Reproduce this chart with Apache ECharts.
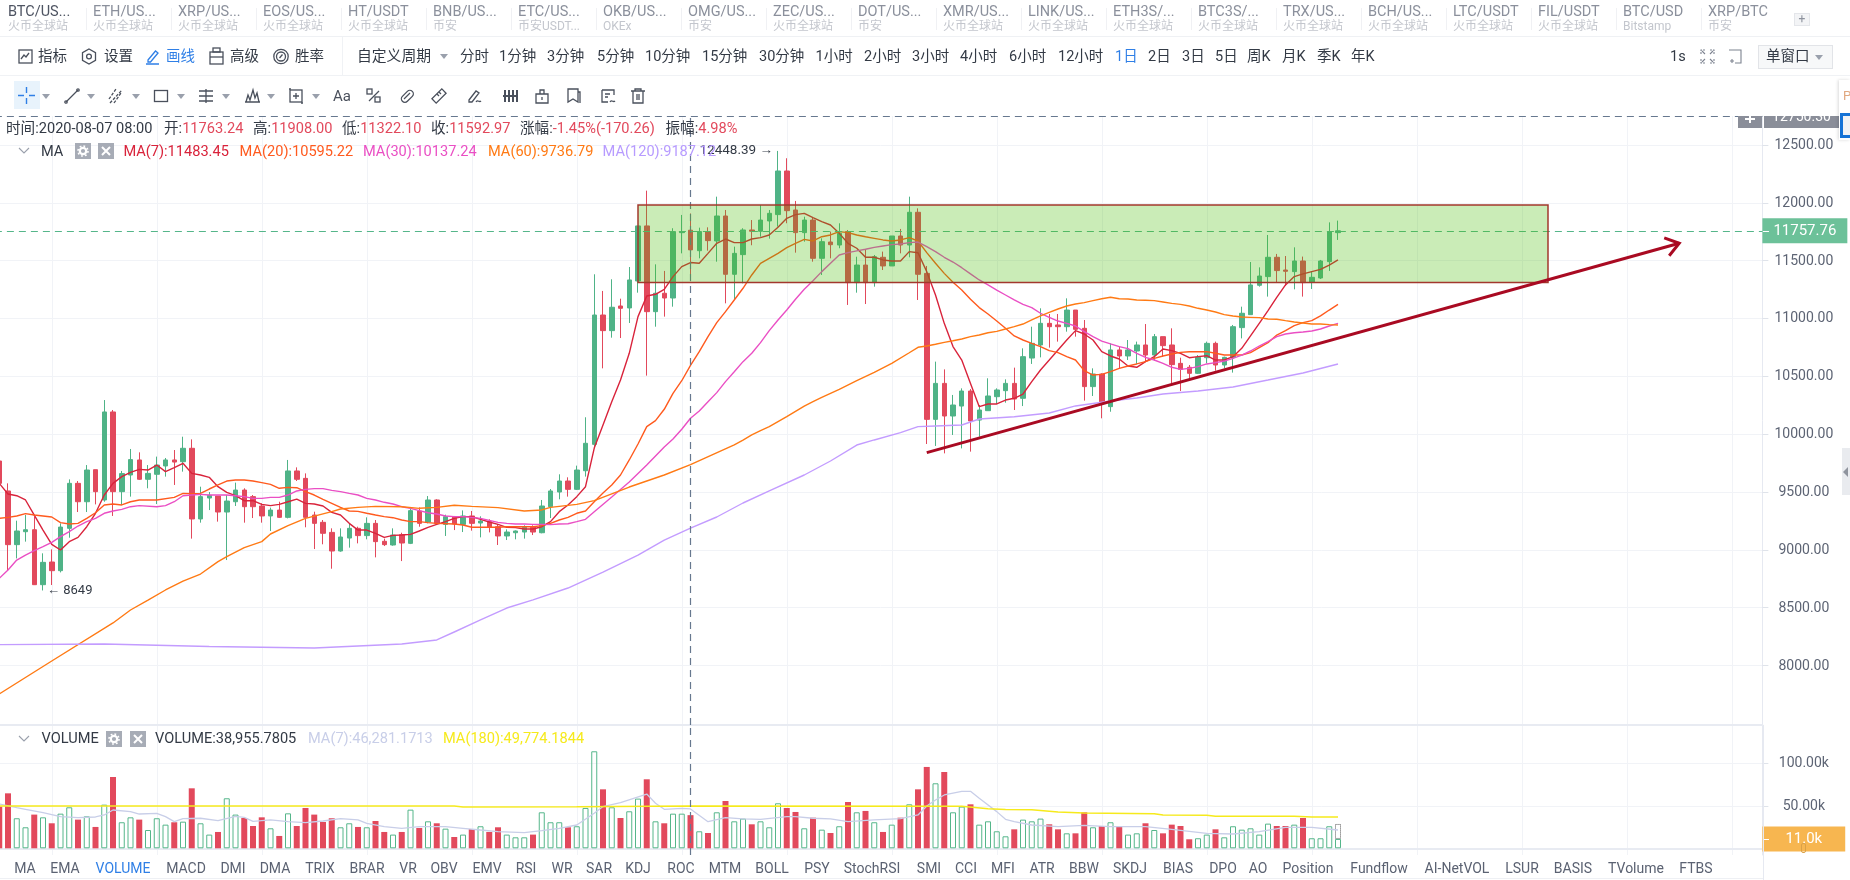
<!DOCTYPE html>
<html><head><meta charset="utf-8"><title>BTC/USDT</title>
<script src="https://cdn.jsdelivr.net/npm/echarts@6/dist/echarts.min.js"></script>
<style>
html,body{margin:0;padding:0;background:#fff;overflow:hidden}
#stage{position:absolute;left:0;top:0;width:1850px;height:880px;overflow:hidden;font-family:Roboto,"Noto Sans CJK SC",sans-serif}
#chart{position:absolute;left:0;top:0;width:1850px;height:880px}
.t{position:absolute;white-space:nowrap;transform:translateY(-50%);line-height:1.2}
.b{position:absolute}
svg{position:absolute;overflow:visible}
</style></head><body><div id="stage"><div id="chart"></div></div>
<script>
// Daily BTC/USDT candles, oldest first
const opens=[9768,9509,9045,9157,9174,8699,8895,8820,9186,9575,9416,9693,9431,10192,9503,9647,9777,9610,9653,9725,9777,9762,9878,9267,9448,9465,9327,9416,9517,9460,9379,9293,9344,9281,9682,9618,9301,9238,9151,8990,9102,9186,9123,9229,9074,9042,9131,9056,9336,9241,9431,9220,9287,9220,9293,9232,9244,9200,9120,9148,9154,9195,9148,9373,9500,9595,9523,9684,9912,11030,10895,11108,11091,11324,11800,11059,11218,11177,11742,11763.24,11586,11751,11670,11886,11382,11552,11765,11754,11843,11898,12275,11938,11742,11851,11520,11661,11635,11751,11310,11462,11310,11529,11454,11713,11635,11918,11390,10128,10439,10157,10243,10373,10122,10203,10324,10376,10439,10310,10658,10771,10958,10944,10929,11073,10915,10411,10520,10238,10728,10676,10719,10771,10684,10843,10771,10612,10578,10526,10661,10785,10598,10664,10921,11033,11287,11362,11529,11419,11405,11497,11315,11350,11491,11742];
const highs=[9800,9575,9252,9301,9287,8970,9004,9229,9609,9595,9733,9693,10295,10209,9682,9872,9843,9733,9806,9794,9863,9978,9955,9546,9500,9465,9474,9581,9532,9474,9402,9365,9416,9777,9713,9661,9330,9258,9186,9186,9229,9200,9281,9258,9097,9186,9148,9359,9367,9465,9437,9304,9293,9341,9336,9290,9264,9223,9177,9168,9212,9212,9431,9526,9653,9627,9728,10146,11382,11238,11339,11171,11445,11800,12105,11468,11411,11780,11895,11908,11785,11788,12053,11938,11621,11780,11851,11981,11938,12448.39,12385,12016,11880,11875,11693,11751,11823,11765,11534,11592,11549,11578,11713,11774,12053,11952,11454,10627,10560,10339,10396,10390,10252,10483,10396,10474,10575,10742,10929,11088,11039,11039,11174,11073,10987,10569,10526,10785,10757,10814,10800,10952,10866,10843,10915,10661,10598,10684,10800,10800,10670,10944,11102,11488,11442,11722,11558,11540,11615,11535,11405,11506,11831,11846];
const lows=[9500,8826,8926,9071,8696,8649,8696,8805,9105,9327,9327,9393,9416,9293,9388,9460,9604,9532,9396,9633,9561,9676,9097,9235,9344,9244,8912,9379,9235,9275,9235,9163,9275,9272,9595,9195,9007,9048,8837,8984,9019,9056,9091,8935,9033,9036,8903,9050,9200,9229,9215,9120,9171,9154,9166,9108,9151,9042,9085,9091,9097,9128,9143,9275,9437,9460,9517,9633,9877,10569,10834,10831,10961,11223,10506,10929,11016,11102,11563,11322.1,11520,11586,11491,11131,11160,11304,11633,11707,11690,11794,11823,11569,11664,11491,11376,11520,11607,11117,11223,11125,11275,11419,11454,11563,11529,11160,9915,9898,9834,9993,9877,9849,9978,10203,10261,10272,10209,10243,10607,10664,10748,10800,10886,10843,10290,10330,10137,10194,10569,10641,10607,10627,10635,10670,10439,10373,10483,10520,10612,10549,10569,10532,10828,11033,11275,11189,11310,11281,11252,11189,11255,11341,11411,11679];
const closes=[9575,9045,9163,9174,8699,8892,8820,9197,9575,9416,9690,9503,10192,9503,9659,9780,9610,9661,9733,9777,9759,9878,9267,9460,9471,9327,9422,9517,9373,9373,9293,9344,9281,9682,9610,9281,9229,9143,8990,9111,9186,9123,9229,9071,9045,9128,9059,9339,9229,9431,9229,9287,9223,9293,9229,9249,9195,9120,9154,9163,9195,9154,9379,9509,9595,9523,9690,9921,11030,10895,11097,11088,11333,11800,11059,11218,11177,11751,11751,11592.97,11751,11673,11886,11382,11563,11765,11754,11851,11909,12275,11932,11742,11851,11520,11664,11638,11736,11310,11462,11310,11534,11454,11713,11635,11918,11382,10128,10439,10157,10252,10373,10114,10209,10330,10382,10439,10304,10670,10785,10958,10929,10929,11073,10906,10411,10520,10275,10728,10676,10728,10771,10684,10843,10765,10601,10560,10526,10664,10785,10598,10664,10929,11045,11290,11367,11529,11414,11408,11497,11310,11356,11497,11751,11757.76];
// Traded volume per day, in thousands
const volumes=[49,64.6,35.3,24.7,39.6,36.4,29.4,40.7,48.2,33.7,37.6,25.1,51.3,83.8,30.6,36.4,33.7,21.5,35.3,27.8,30.6,31.3,70.5,29.4,16.1,19.2,58.8,39.6,35.6,26.2,36.4,23.5,14.5,41.1,26.2,47.4,39.6,30.9,35.3,24.7,29.4,25.1,24.7,32.1,19.2,16.1,19.2,45.4,23.9,31.7,29.4,23.1,13.3,16.1,22.7,25.9,19.2,24.7,16.1,12.9,12.9,16.1,42.3,30.6,30.6,24.7,25.9,47.4,114,69.3,48.2,35.6,43.5,58.4,81.1,31.7,29.4,40.7,40.7,38.96,20,18,42.3,55.6,31.7,34.9,28.2,31.7,24.7,52.9,47.4,42.7,23.5,36,21.9,18,25.9,54.4,42.3,43.9,30.6,19.2,27.8,36,51.7,69.3,95.6,76.4,89.7,42.3,49,51.7,27.8,31.7,20,14.1,22.3,33.7,31.7,34.9,28.2,22.3,17.6,17.6,42.3,24.7,26.2,30.6,25.1,16.1,17.6,29.4,21.5,17.6,27.8,26.2,10.6,11.8,16.1,22.3,12.9,25.9,21.9,23.5,16.1,29,26.2,26.2,27.8,35.6,11.8,11.8,25.9,11];
// Still-forming part of the newest volume bar
const pendingVolume=[[153,17.6]];
// Moving averages as [day index, value]
const ma7=[[0,9575],[1,9483],[2,9468],[3,9431],[4,9301],[5,9171],[6,9048],[7,8999],[8,9071],[9,9108],[10,9200],[11,9316],[12,9474],[13,9575],[14,9633],[15,9670],[16,9696],[17,9690],[18,9733],[19,9676],[20,9710],[21,9748],[22,9661],[23,9647],[24,9627],[25,9546],[26,9497],[27,9468],[28,9425],[29,9425],[30,9393],[31,9382],[32,9393],[33,9416],[34,9439],[35,9402],[36,9396],[37,9379],[38,9324],[39,9301],[40,9229],[41,9171],[42,9171],[43,9143],[44,9108],[45,9125],[46,9128],[47,9134],[48,9163],[49,9195],[50,9220],[51,9244],[52,9272],[53,9287],[54,9287],[55,9264],[56,9241],[57,9220],[58,9195],[59,9192],[60,9180],[61,9180],[62,9200],[63,9244],[64,9330],[65,9388],[66,9460],[67,9546],[68,9880],[69,10079],[70,10281],[71,10468],[72,10699],[73,11016],[74,11194],[75,11209],[76,11252],[77,11362],[78,11448],[79,11483.45],[80,11477],[81,11563],[82,11650],[83,11687],[84,11656],[85,11656],[86,11687],[87,11699],[88,11722],[89,11788],[90,11866],[91,11898],[92,11909],[93,11872],[94,11837],[95,11808],[96,11736],[97,11650],[98,11607],[99,11529],[100,11529],[101,11506],[102,11497],[103,11497],[104,11578],[105,11568],[106,11405],[107,11203],[108,10958],[109,10757],[110,10641],[111,10439],[112,10238],[113,10261],[114,10261],[115,10295],[116,10310],[117,10347],[118,10454],[119,10555],[120,10641],[121,10728],[122,10814],[123,10895],[124,10866],[125,10814],[126,10713],[127,10676],[128,10650],[129,10589],[130,10578],[131,10627],[132,10670],[133,10736],[134,10722],[135,10699],[136,10661],[137,10670],[138,10678],[139,10641],[140,10641],[141,10670],[142,10742],[143,10849],[144,10958],[145,11068],[146,11183],[147,11290],[148,11362],[149,11385],[150,11405],[151,11425],[152,11462],[153,11506]];
const ma20=[[0,9272],[1,9281],[2,9293],[3,9313],[4,9301],[5,9293],[6,9284],[7,9235],[8,9223],[9,9229],[10,9272],[11,9321],[12,9388],[13,9396],[14,9388],[15,9416],[16,9431],[18,9431],[20,9454],[21,9488],[22,9486],[23,9488],[24,9526],[25,9561],[26,9595],[27,9604],[28,9604],[29,9595],[30,9581],[31,9566],[32,9532],[33,9540],[34,9537],[35,9503],[36,9474],[37,9437],[38,9402],[39,9367],[40,9336],[41,9333],[42,9316],[43,9301],[44,9287],[45,9278],[46,9258],[47,9244],[48,9244],[49,9235],[50,9229],[52,9223],[53,9215],[54,9195],[57,9195],[58,9200],[61,9200],[62,9209],[63,9229],[64,9258],[65,9281],[66,9316],[67,9336],[68,9416],[69,9492],[70,9561],[71,9647],[72,9777],[73,9915],[74,10065],[75,10117],[76,10215],[77,10353],[78,10462],[79,10595.22],[80,10713],[81,10843],[82,10964],[83,11059],[84,11160],[85,11261],[86,11376],[87,11477],[88,11520],[89,11563],[90,11612],[91,11650],[92,11684],[93,11670],[94,11707],[95,11722],[96,11751],[97,11742],[98,11722],[99,11707],[100,11693],[101,11679],[102,11670],[103,11679],[104,11699],[105,11670],[106,11569],[107,11477],[108,11390],[109,11313],[110,11246],[111,11166],[112,11094],[113,11039],[114,10978],[115,10915],[116,10849],[117,10814],[118,10785],[119,10757],[120,10722],[121,10705],[122,10670],[123,10641],[124,10549],[125,10511],[126,10517],[127,10540],[128,10569],[129,10589],[130,10607],[131,10627],[132,10655],[133,10676],[134,10693],[135,10707],[136,10713],[138,10713],[139,10699],[140,10684],[142,10684],[143,10705],[144,10748],[145,10791],[146,10857],[147,10895],[148,10938],[149,10964],[150,10981],[151,11022],[152,11073],[153,11122]];
const ma30=[[0,8754],[1,8826],[2,8912],[3,8955],[4,8993],[5,9027],[6,9065],[7,9114],[8,9157],[9,9206],[10,9244],[11,9272],[12,9316],[13,9336],[14,9350],[15,9373],[16,9382],[18,9373],[19,9382],[20,9416],[21,9468],[22,9474],[23,9480],[24,9474],[26,9474],[27,9468],[28,9460],[29,9445],[30,9445],[31,9454],[32,9454],[33,9474],[34,9509],[35,9523],[36,9529],[37,9529],[38,9514],[39,9503],[40,9488],[41,9474],[42,9445],[43,9431],[44,9411],[45,9396],[46,9373],[47,9359],[48,9339],[49,9321],[50,9310],[51,9293],[52,9287],[53,9287],[54,9281],[55,9272],[56,9255],[57,9238],[58,9229],[59,9223],[60,9223],[61,9220],[62,9220],[63,9218],[64,9223],[65,9226],[66,9244],[67,9264],[68,9330],[70,9457],[72,9587],[74,9734],[76,9889],[77,9958],[78,10042],[79,10137.24],[80,10200],[81,10281],[82,10359],[83,10454],[84,10540],[85,10627],[86,10699],[87,10791],[88,10895],[89,10987],[90,11073],[91,11166],[92,11252],[93,11327],[94,11405],[95,11477],[96,11549],[97,11569],[98,11584],[99,11598],[100,11615],[101,11627],[102,11638],[103,11644],[104,11656],[105,11661],[106,11621],[107,11578],[108,11529],[109,11488],[110,11439],[111,11385],[112,11333],[113,11290],[114,11246],[115,11203],[116,11160],[117,11122],[118,11094],[119,11045],[120,11010],[121,10978],[122,10958],[123,10935],[124,10886],[125,10843],[126,10805],[127,10780],[128,10757],[129,10739],[130,10699],[131,10664],[132,10641],[133,10612],[134,10578],[135,10560],[136,10569],[137,10584],[138,10607],[139,10618],[140,10632],[141,10655],[142,10684],[143,10719],[144,10762],[145,10800],[146,10843],[147,10866],[148,10877],[149,10883],[150,10892],[151,10909],[152,10935],[153,10958]];
const ma60=[[0,7754],[6,8039],[13,8368],[15,8480],[17,8566],[19,8653],[21,8730],[23,8791],[25,8898],[26,8941],[28,9019],[30,9071],[31,9137],[33,9209],[35,9272],[38,9330],[39,9353],[41,9367],[43,9376],[46,9373],[48,9359],[50,9367],[52,9385],[54,9376],[57,9365],[60,9336],[62,9345],[63,9367],[66,9393],[68,9425],[72,9543],[76,9647],[79,9736.79],[84,9907],[85,9949],[86,9993],[87,10030],[88,10065],[90,10151],[92,10243],[93,10281],[94,10318],[96,10388],[98,10462],[100,10534],[102,10612],[104,10704],[105,10751],[106,10762],[107,10777],[108,10794],[109,10808],[110,10823],[111,10843],[112,10857],[113,10877],[114,10889],[115,10909],[116,10929],[117,10952],[118,10987],[119,11022],[120,11053],[121,11082],[122,11108],[123,11125],[124,11137],[125,11154],[126,11171],[127,11183],[128,11171],[129,11168],[130,11160],[131,11157],[132,11154],[133,11143],[134,11131],[135,11122],[136,11108],[137,11088],[138,11073],[139,11056],[140,11033],[141,11021],[142,11013],[143,11010],[144,11007],[145,10995],[146,10993],[147,10981],[148,10970],[149,10961],[150,10952],[151,10952],[152,10947],[153,10944]];
const ma120=[[0,8181],[12,8186],[24,8164],[36,8152],[46,8186],[50,8221],[52,8290],[55,8394],[58,8497],[61,8567],[65,8670],[69,8808],[73,8955],[76,9085],[79,9187.12],[82,9284],[85,9405],[88,9509],[92,9647],[95,9768],[98,9906],[100,9950],[103,10013],[105,10065],[107,10071],[110,10079],[112,10131],[116,10151],[120,10183],[123,10244],[127,10287],[130,10313],[133,10347],[137,10373],[141,10408],[145,10468],[149,10529],[153,10607]];
const volMa7=[[0,52.1],[2,47.8],[3,45.8],[5,41.9],[7,37.2],[9,36],[11,36.8],[12,39.2],[13,45],[15,43.1],[16,40.3],[18,41.1],[19,37.2],[20,31.3],[21,34.9],[23,35.3],[25,32.5],[27,37.6],[28,36.4],[29,31.7],[31,33.3],[33,31.3],[35,30.2],[37,32.1],[39,34.9],[41,33.3],[42,29.4],[44,25.5],[46,23.5],[48,25.5],[51,25.5],[53,23.5],[55,21.5],[57,19.6],[60,18.4],[62,20.8],[64,23.5],[66,27.4],[68,41.1],[69,49],[71,53.7],[74,63.8],[75,52.9],[76,45.8],[78,47],[79,46.28],[81,31.3],[83,36],[85,34.5],[87,34.1],[90,37.2],[91,37.2],[93,35.3],[95,34.5],[97,31.3],[100,33.3],[103,34.9],[105,39.2],[106,49.7],[107,56.8],[108,62.7],[110,67],[111,67],[112,58.8],[114,43.1],[115,34.1],[116,31.3],[118,27.4],[121,25.5],[124,27],[127,25.5],[131,25.5],[134,22.3],[138,17.6],[141,16.8],[144,19.6],[147,24.7],[150,24.7],[153,21.5]];
const volMa180=[[0,49.77],[52,49.77],[53,48.6],[66,48.8],[79,49.77],[110,49.5],[113,46.6],[115,45.5],[118,45.4],[121,42.6],[124,41.5],[132,40.7],[133,39.2],[138,38.8],[139,37.6],[148,37.6],[150,36.8],[153,36.8]];
// Drawn annotations, in [day index, price]
const rangeBox=[[73,11981],[177,11310]];
const trendArrow=[[106,9840],[192,11650]];
const lastPrice=11757.76, hoverPrice=12750.30, hoverDay=79, lastVolume=11.0;
const priceTicks=[8000,8500,9000,9500,10000,10500,11000,11500,12000,12500];
const volumeTicks=[50,100];
const SLOTS=202;

const pairNames=['BTC/US...','ETH/US...','XRP/US...','EOS/US...','HT/USDT','BNB/US...','ETC/US...','OKB/US...','OMG/US...','ZEC/US...','DOT/US...','XMR/US...','LINK/US...','ETH3S/...','BTC3S/...','TRX/US...','BCH/US...','LTC/USDT','FIL/USDT','BTC/USD','XRP/BTC'];
const pairVenues=['火币全球站','火币全球站','火币全球站','火币全球站','火币全球站','币安','币安USDT...','OKEx','币安','火币全球站','币安','火币全球站','火币全球站','火币全球站','火币全球站','火币全球站','火币全球站','火币全球站','火币全球站','Bitstamp','币安'];
const periodNames=['分时','1分钟','3分钟','5分钟','10分钟','15分钟','30分钟','1小时','2小时','3小时','4小时','6小时','12小时','1日','2日','3日','5日','周K','月K','季K','年K'];
const periodLefts=[460,499,547,597,645,702,759,815.5,864,912,960,1009,1058,1115,1148,1182,1215,1247,1282,1317,1351];
const indicatorNames=['MA','EMA','VOLUME','MACD','DMI','DMA','TRIX','BRAR','VR','OBV','EMV','RSI','WR','SAR','KDJ','ROC','MTM','BOLL','PSY','StochRSI','SMI','CCI','MFI','ATR','BBW','SKDJ','BIAS','DPO','AO','Position','Fundflow','AI-NetVOL','LSUR','BASIS','TVolume','FTBS'];
const indicatorCenters=[25,65,123,186,233,275,320,367,408,444,487,526,562,599,638,681,725,772,817,872,929,966,1003,1042,1084,1130,1178,1223,1258,1308,1379,1457,1522,1573,1636,1696];

const UP='#4fb387',DOWN='#e2495c';
const candleData=opens.map((o,i)=>[o,closes[i],lows[i],highs[i]]);
const volumeData=volumes.map((v,i)=>({value:v,itemStyle:closes[i]>=opens[i]?
  {color:'rgba(255,255,255,0)',borderColor:'#55b68a',borderWidth:1}:{color:DOWN,borderColor:DOWN,borderWidth:0}}));
const maSeries=(name,data,color,width=1.4,g=0)=>({name,type:'line',data,xAxisIndex:g,yAxisIndex:g,symbol:'none',silent:true,z:3,
  lineStyle:{color,width},animation:false});
const dash=[7,5];

const chart=echarts.init(document.getElementById('chart'),null,{renderer:'canvas',width:1850,height:880});
const gridSplit={show:true,alignWithLabel:true,interval:i=>i>=6&&(i-6)%12===0,lineStyle:{color:'#f1f3f7',width:1}};
const xAxisCommon={type:'category',data:Array.from({length:SLOTS},(_,i)=>'d'+i),boundaryGap:true,
  axisTick:{show:false},axisLabel:{show:false},splitLine:gridSplit,axisLine:{show:true,lineStyle:{color:'#e8ebf2',width:2}}};
const yAxisCommon={type:'value',position:'right',scale:false,
  axisLine:{show:true,lineStyle:{color:'#e6e9f1',width:1}},
  splitLine:{show:true,lineStyle:{color:'#f1f3f7',width:1}}};
chart.setOption({
  animation:false,
  grid:[{left:-5.125,width:1767.5,top:116,height:609,outerBoundsMode:'none'},{left:-5.125,width:1767.5,top:725,height:130,outerBoundsMode:'none'}],
  xAxis:[{...xAxisCommon,gridIndex:0},{...xAxisCommon,gridIndex:1}],
  yAxis:[
    {...yAxisCommon,gridIndex:0,min:7486,max:hoverPrice,
     axisTick:{show:true,length:6,customValues:priceTicks,lineStyle:{color:'#dfe3ea'}},
     axisLabel:{customValues:priceTicks,align:'center',verticalAlign:'top',lineHeight:1,margin:41.5,color:'#5d6474',fontSize:14,fontFamily:'Roboto',formatter:v=>v.toFixed(2)}},
    {...yAxisCommon,gridIndex:1,min:-7.87,max:144.9,
     axisTick:{show:true,length:6,customValues:volumeTicks,lineStyle:{color:'#dfe3ea'}},
     axisLabel:{customValues:volumeTicks,align:'center',verticalAlign:'top',lineHeight:1,margin:41.5,color:'#5d6474',fontSize:14,fontFamily:'Roboto',formatter:v=>v.toFixed(2)+'k'}}
  ],
  series:[
    {name:'K',type:'candlestick',data:candleData,barWidth:5,z:2,silent:true,
     itemStyle:{color:UP,color0:DOWN,borderColor:UP,borderColor0:DOWN,borderWidth:1},
     markLine:{silent:true,symbol:'none',animation:false,label:{show:false},
       data:[
        {xAxis:hoverDay,lineStyle:{color:'#67788f',type:dash,width:1.2}},
        {yAxis:hoverPrice,lineStyle:{color:'#67788f',type:dash,width:1.2}},
        {yAxis:lastPrice,lineStyle:{color:'#55b68a',type:dash,width:1},
         label:{show:true,position:'end',distance:0,formatter:p=>p.value.toFixed(2),color:'#fff',fontSize:15,fontFamily:'Roboto',
           backgroundColor:'#6cc199',padding:[6,11,4,11],align:'left',verticalAlign:'middle'}}
       ]},
     markPoint:{silent:true,animation:false,symbol:'circle',symbolSize:0,
       data:[
        {coord:[89,highs[89]],label:{show:true,position:'left',distance:5,formatter:highs[89]+' →',color:'#333a45',fontSize:13.5,fontFamily:'Roboto'}},
        {coord:[5,lows[5]],label:{show:true,position:'right',distance:4,formatter:'← '+lows[5],color:'#333a45',fontSize:13,fontFamily:'Roboto'}}
       ]}},
    maSeries('MA7',ma7,'#d9233b'),
    maSeries('MA20',ma20,'#ff5a1e'),
    maSeries('MA30',ma30,'#ea4fc4'),
    maSeries('MA60',ma60,'#ff7a14'),
    maSeries('MA120',ma120,'#c39cff'),
    {name:'box',type:'custom',z:6,silent:true,data:[0],clip:false,
     renderItem:(p,api)=>{const a=api.coord(rangeBox[0]),b=api.coord(rangeBox[1]);
       return {type:'rect',shape:{x:a[0],y:a[1],width:b[0]-a[0],height:b[1]-a[1]},
         style:{fill:'rgba(73,189,7,0.29)',stroke:'#a2382d',lineWidth:1.5}};}},
    {name:'trend',type:'custom',z:7,silent:true,data:[0],clip:false,
     renderItem:(p,api)=>{const a=api.coord(trendArrow[0]),b=api.coord(trendArrow[1]);
       const ang=Math.atan2(b[1]-a[1],b[0]-a[0]),head=16,spread=0.62;
       const l=[b[0]-head*Math.cos(ang-spread),b[1]-head*Math.sin(ang-spread)];
       const r=[b[0]-head*Math.cos(ang+spread),b[1]-head*Math.sin(ang+spread)];
       const st={stroke:'#a90a22',lineWidth:3,fill:null};
       return {type:'group',children:[
         {type:'line',shape:{x1:a[0],y1:a[1],x2:b[0],y2:b[1]},style:st},
         {type:'polyline',shape:{points:[l,b,r]},style:st}]};}},
    {name:'Volume',type:'bar',xAxisIndex:1,yAxisIndex:1,data:volumeData,barWidth:6,stack:'v',z:2,silent:true,
     markLine:{silent:true,symbol:'none',animation:false,label:{show:false},
       data:[
        {xAxis:hoverDay,lineStyle:{color:'#67788f',type:dash,width:1.2}},
        {yAxis:lastVolume,lineStyle:{color:'rgba(0,0,0,0)'},
         label:{show:true,position:'end',distance:0,formatter:lastVolume.toFixed(1)+'k',color:'#fff',fontSize:15,fontFamily:'Roboto',
           backgroundColor:'#f7b650',padding:[6,23,4,23],align:'left',verticalAlign:'middle'}}
       ]}},
    {name:'Pending',type:'bar',xAxisIndex:1,yAxisIndex:1,data:pendingVolume,barWidth:6,stack:'v',z:2,silent:true,
     itemStyle:{color:'rgba(255,255,255,0)',borderColor:'#555',borderWidth:1,borderType:'dotted'}},
    maSeries('VolMA7',volMa7,'#c8cee8',1.3,1),
    maSeries('VolMA180',volMa180,'#f6ea1c',1.5,1)
  ]
});

// Terminal toolbars and readouts around the plot
const stage=document.getElementById('stage');
function text(s,x,y,size,color,extra={}){const e=document.createElement('div');e.className='t';e.textContent=s;
  Object.assign(e.style,{left:x+'px',top:y+'px',fontSize:size+'px',color},extra);stage.appendChild(e);return e;}
function block(x,y,w,h,style={}){const e=document.createElement('div');e.className='b';
  Object.assign(e.style,{left:x+'px',top:y+'px',width:w+'px',height:h+'px'},style);stage.appendChild(e);return e;}
function icon(x,y,w,h,body,color='#4a505c',sw=1.3){const n='http://www.w3.org/2000/svg';const s=document.createElementNS(n,'svg');
  s.setAttribute('width',w);s.setAttribute('height',h);s.setAttribute('viewBox',`0 0 ${w} ${h}`);
  s.style.left=x+'px';s.style.top=y+'px';s.setAttribute('fill','none');s.setAttribute('stroke',color);s.setAttribute('stroke-width',sw);
  s.innerHTML=body;stage.appendChild(s);return s;}
function caret(x,y,c='#9aa0ac'){const e=document.createElement('div');e.className='b';
  Object.assign(e.style,{left:x+'px',top:y+'px',width:0,height:0,borderLeft:'4px solid transparent',borderRight:'4px solid transparent',borderTop:`5px solid ${c}`});stage.appendChild(e);}

// pair tabs
pairNames.forEach((n,i)=>{const x=8+85*i;
  text(n,x,12,14.5,i===0?'#4e5462':'#8b909c');
  text(pairVenues[i],x,26,12,'#c3c6cd',{maxWidth:'64px',overflow:'hidden'});
  if(i)block(x-7,8,1,22,{background:'#f0f1f4'});
});
block(1794,13,16,13,{background:'#f3f4f6',border:'1px solid #e4e6ea',boxSizing:'border-box'});
text('+',1798.5,19,12,'#8d929d');
block(0,36,1850,1,{background:'#eff1f4'});
block(0,75,1850,1,{background:'#f0f2f5'});
// main toolbar
const toolNames=['指标','设置','画线','高级','胜率'], toolLefts=[38,104,166,230,295];
toolNames.forEach((n,i)=>text(n,toolLefts[i],56.5,14.5,i===2?'#2f7fe6':'#333a45'));
icon(18,49,15,15,'<rect x="1" y="1" width="13" height="13"/><path d="M3 10l3-4 2 2 3-4"/>');
icon(81,48,16,17,'<path d="M8 1l6.5 3.7v7.6L8 16l-6.5-3.7V4.7z"/><circle cx="8" cy="8.5" r="2.4"/>');
icon(145,48,15,17,'<path d="M3 12L10.5 3l2.5 2-7.5 9H3zM1 16h13"/>','#2f7fe6');
icon(209,47,15,18,'<rect x="1" y="5" width="13" height="12"/><rect x="4" y="1" width="7" height="4"/><path d="M1 10h13"/>');
icon(273,48,16,17,'<circle cx="8" cy="8.5" r="7.2"/><circle cx="8" cy="8.5" r="4.5"/><path d="M6.5 10l3-3.5"/>');
block(342,37,1,38,{background:'#f0f2f5'});
text('自定义周期',357,56.5,14.8,'#333a45');caret(440,54);
periodNames.forEach((n,i)=>text(n,periodLefts[i],56.5,14.5,n==='1日'?'#2f7fe6':'#333a45'));
text('1s',1670,56.5,14.5,'#333a45');
icon(1700,49,15,15,'<path d="M1 5V1h4M10 1h4v4M14 10v4h-4M5 14H1v-4" stroke-dasharray="2 1"/><path d="M5 5L2 2M10 5l3-3M10 10l3 3M5 10l-3 3"/>','#7d8390',1.1);
icon(1728,49,14,15,'<path d="M1 1h12v13H7"/><path d="M4 10v4M2 12h4"/>','#7d8390',1.1);
block(1757.5,45,75,24,{background:'#f7f8f9',border:'1px solid #e2e4e8',boxSizing:'border-box'});
text('单窗口',1766,57,14.5,'#333a45');caret(1815,55);
// drawing tools
block(14,81,26,28,{background:'#e8f3fc'});
icon(18,87,17,17,'<path d="M8.5 0v6M8.5 11v6M0 8.5h6M11 8.5h6"/>','#2f7fe6',1.4);
const toolIcons=[
 '<path d="M2 14L14 2"/><circle cx="2" cy="14" r="1.2"/><circle cx="14" cy="2" r="1.2"/>',
 '<path d="M1 11L8 1M6 15l7-10M2 15L14 2" stroke-dasharray="3 1.5"/>',
 '<rect x="1.5" y="2.5" width="13" height="11"/>',
 '<path d="M1 3h14M1 8h14M1 13h14M8 1v14"/>',
 '<path d="M1 14h15M2 14l2-7 2 5 3-10 2 8 2-5 2 9"/>',
 '<rect x="2" y="2" width="12" height="12"/><path d="M8 5v6M5 8h6M1 1h2M13 15h2"/>'];
const toolIconLefts=[64,108,153,198,244,288], caretLefts=[42,87,132,177,222,267,312];
toolIcons.forEach((b,i)=>icon(toolIconLefts[i],88,16,16,b));
caretLefts.forEach(x=>caret(x,94));
text('Aa',333,96,15,'#4a505c');
const miscIcons=[
 '<rect x="1" y="1" width="5" height="5"/><rect x="9" y="9" width="5" height="5"/><path d="M3 13L13 3"/>',
 '<rect x="1" y="5" width="14" height="7" rx="3.5" transform="rotate(-45 8 8)"/><path d="M5 11l6-6"/>',
 '<rect x="1" y="5" width="14" height="6" transform="rotate(-45 8 8)"/><path d="M6 6l2 2M8 4l2 2"/>',
 '<path d="M2 12L9 3l3 2-7 9H2zM9 14c2-3 3 1 5-1"/>',
 '<path d="M1 8h15M3 2v12M7 2v12M11 2v12M15 2v12" stroke-width="2"/>',
 '<path d="M2 6h12v9H2zM6 6V2h4v4M8 9v3"/>',
 '<path d="M2 1h10v13l-5-3-5 3z"/><path d="M12 4h2v11"/>',
 '<path d="M2 2h12v5M2 2v12h6M10 14c2-3 3 1 5-1"/><path d="M5 6h5M5 9h3" />',
 '<path d="M1 3h14M5 3V1h6v2M3 3v12h10V3M7 6v6M9 6v6"/>'];
const miscLefts=[366,399,431,467,502,534,566,600,630];
miscIcons.forEach((b,i)=>icon(miscLefts[i],88,16,16,b));
// readout above the price panel
text('时间:2020-08-07 08:00',6,129,14.6,'#333a45');
const quote=[['开:','11763.24',164],['高:','11908.00',253],['低:','11322.10',342],['收:','11592.97',431],['涨幅:','-1.45%(-170.26)',520],['振幅:','4.98%',665.5]];
quote.forEach(([l,v,x])=>{const e=text(l,x,129,14.6,'#333a45');const s=document.createElement('span');s.textContent=v;s.style.color='#e2495c';e.appendChild(s);});
function chevron(x,y){icon(x,y,12,8,'<path d="M1 1l5 5 5-5"/>','#9aa0ac',1.1);}
function badge(x,y,kind){block(x,y,16,16,{background:'#a7acb6'});
  if(kind==='x')icon(x+3,y+3,10,10,'<path d="M1 1l8 8M9 1l-8 8"/>','#fff',2);
  else icon(x+2,y+2,12,12,'<circle cx="6" cy="6" r="3.2" stroke-width="2.2"/><circle cx="6" cy="6" r="5" stroke-dasharray="1.8 2.1" stroke-width="1.6"/>','#fff');}
chevron(18,147);text('MA',41,152,14.6,'#333a45');badge(75,143,'g');badge(98,143,'x');
const maReadout=[['MA(7):11483.45','#d9233b',123.4],['MA(20):10595.22','#ff5a1e',239.6],['MA(30):10137.24','#ea4fc4',363],['MA(60):9736.79','#ff7a14',488],['MA(120):9187.12','#b79bff',602.6]];
maReadout.forEach(([s,c,x])=>text(s,x,152,14.6,c));
chevron(18,735);text('VOLUME',41.5,739,14.6,'#333a45');badge(106,731,'g');badge(130,731,'x');
text('VOLUME:38,955.7805',155,739,14.6,'#333a45');
text('MA(7):46,281.1713',308,739,14.6,'#c8cee8');
text('MA(180):49,774.1844',443,739,14.6,'#f6ea1c');
// crosshair price tag, cut off by the top of the panel
block(1737.5,116,24.5,12,{background:'#8a8e99'});
block(1749,116,2,7,{background:'#fff'});block(1745,118,10,2,{background:'#fff'});
const tag=block(1763.5,116,76,12,{background:'#8a8e99',overflow:'hidden'});
const tagText=document.createElement('div');tagText.textContent='12750.30';
Object.assign(tagText.style,{position:'absolute',left:0,right:0,top:'-12px',height:'24px',lineHeight:'24px',textAlign:'center',color:'#fff',fontSize:'14px'});tag.appendChild(tagText);
// small white ticks on the two value tags
block(1763,231,6,1,{background:'#fff'});block(1763,839,6,1,{background:'#fff'});
// indicator tabs
indicatorNames.forEach((n,i)=>text(n,indicatorCenters[i],868,14,n==='VOLUME'?'#2f7fe6':'#5b6272',{transform:'translate(-50%,-50%)'}));
block(0,878,1763,1,{background:'#eef0f4'});
block(1763,725,1,155,{background:'#e6e9f1'});
// hand cursor over the volume tag, side panel peeking in from the right
block(1801,843,5,10,{border:'1px solid #d9a148',borderRadius:'2px',boxSizing:'border-box'});
block(1839,80,11,60,{background:'#fff',boxShadow:'-1px 0 3px rgba(0,0,0,.15)'});
text('P',1843,96,13,'#e0a77e');
block(1840,113,10,25,{background:'#f2f3f5',borderLeft:'3px solid #1673d6',borderTop:'3px solid #1673d6',borderBottom:'3px solid #1673d6',boxSizing:'border-box'});
block(1842,448,8,47,{background:'#e9ebef'});
const handle=block(1843,467,0,0,{borderTop:'5px solid transparent',borderBottom:'5px solid transparent',borderRight:'5px solid #8f949e'});
</script></body></html>
